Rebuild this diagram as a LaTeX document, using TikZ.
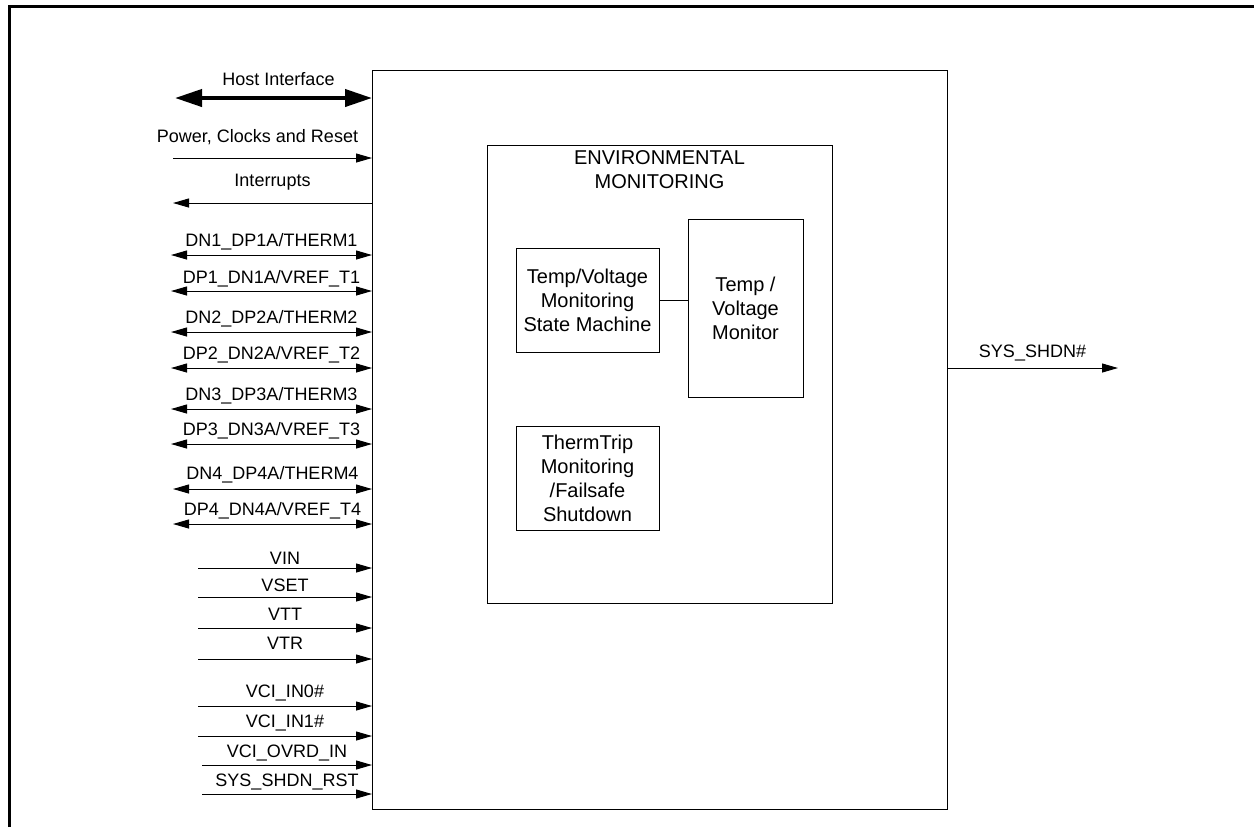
\documentclass[tikz,border=0pt]{standalone}
\usepackage{fontspec}
\setmainfont{Liberation Sans}
\usetikzlibrary{arrows.meta,positioning}

\begin{document}
\begin{tikzpicture}[
  x=0.5pt, y=-0.5pt,
  block/.style={draw, inner sep=0pt, outer sep=0pt, align=center, line width=0.5pt, font=\fontsize{10}{12}\selectfont},
  pin/.style={-{Triangle[length=8pt,width=4.5pt]}, line width=0.5pt},
  bipin/.style={{Triangle[length=8pt,width=4.5pt]}-{Triangle[length=8pt,width=4.5pt]}, line width=0.5pt},
  bus/.style={{Triangle[length=13.5pt,width=8.5pt]}-{Triangle[length=13.5pt,width=8.5pt]}, line width=2pt},
  signame/.style={font=\fontsize{9}{11}\selectfont, inner sep=1pt, text depth=0pt, midway, above=3pt}
]
\useasboundingbox (0,0) rectangle (1254,827);
\draw[line width=1.5pt] (9,827) |- (1254,6.5);

% chip and environmental monitoring blocks
\node[block, minimum width=287.5pt, minimum height=369.5pt] (chip) at (659.5,439.5) {};
\node[block, minimum width=172.5pt, minimum height=229pt] (env) at (659.5,374) {};
\node[block, draw=none, below=3pt of env.north] (envtitle) {ENVIRONMENTAL\\MONITORING};
\node[block, minimum width=71.5pt, minimum height=52pt] (tvsm) at (587.5,300) {Temp/Voltage\\Monitoring\\State Machine};
\node[block, minimum width=57.5pt, minimum height=89pt, right=14.5pt of tvsm, yshift=-4pt] (tvmon) {Temp /\\Voltage\\Monitor};
\node[block, minimum width=71.5pt, minimum height=52pt, below=37pt of tvsm] (trip) {ThermTrip\\Monitoring\\/Failsafe\\Shutdown};
\draw[line width=0.5pt] (tvsm.east) -- (tvsm.east -| tvmon.west);

% host side signals
\coordinate (host) at (175,98);
\coordinate (pcr) at (173,158);
\coordinate (irq) at (173,203);
\draw[bus] (host) -- (host -| chip.west) node[signame, above=4.5pt, xshift=2.5pt] {Host Interface};
\draw[pin] (pcr) -- (pcr -| chip.west) node[signame, above=6.5pt, xshift=-7.5pt] {Power, Clocks and Reset};
\draw[pin] (irq -| chip.west) -- (irq) node[signame, above=7pt] {Interrupts};

% remote diode pins
\coordinate (dn1) at (171,255);
\coordinate (dp1) at (171,291);
\coordinate (dn2) at (171,332);
\coordinate (dp2) at (171,368);
\coordinate (dn3) at (171,409);
\coordinate (dp3) at (171,444);
\coordinate (dn4) at (173,489);
\coordinate (dp4) at (173,524);
\draw[bipin] (dn1) -- (dn1 -| chip.west) node[signame] {DN1\_DP1A/THERM1};
\draw[bipin] (dp1) -- (dp1 -| chip.west) node[signame, above=2.5pt] {DP1\_DN1A/VREF\_T1};
\draw[bipin] (dn2) -- (dn2 -| chip.west) node[signame] {DN2\_DP2A/THERM2};
\draw[bipin] (dp2) -- (dp2 -| chip.west) node[signame] {DP2\_DN2A/VREF\_T2};
\draw[bipin] (dn3) -- (dn3 -| chip.west) node[signame] {DN3\_DP3A/THERM3};
\draw[bipin] (dp3) -- (dp3 -| chip.west) node[signame] {DP3\_DN3A/VREF\_T3};
\draw[bipin] (dn4) -- (dn4 -| chip.west) node[signame, above=3.5pt] {DN4\_DP4A/THERM4};
\draw[bipin] (dp4) -- (dp4 -| chip.west) node[signame] {DP4\_DN4A/VREF\_T4};

% voltage inputs
\coordinate (vin) at (198,568);
\coordinate (vset) at (198,597);
\coordinate (vtt) at (198,628);
\coordinate (vtr) at (198,659);
\draw[pin] (vin) -- (vin -| chip.west) node[signame, above=0.5pt] {VIN};
\draw[pin] (vset) -- (vset -| chip.west) node[signame, above=1.5pt] {VSET};
\draw[pin] (vtt) -- (vtt -| chip.west) node[signame, above=2.5pt] {VTT};
\draw[pin] (vtr) -- (vtr -| chip.west) node[signame, above=3.5pt] {VTR};

% VCI and shutdown inputs
\coordinate (vci0) at (198,706);
\coordinate (vci1) at (198,736);
\coordinate (ovrd) at (202,765);
\coordinate (srst) at (202,794);
\draw[pin] (vci0) -- (vci0 -| chip.west) node[signame] {VCI\_IN0\#};
\draw[pin] (vci1) -- (vci1 -| chip.west) node[signame] {VCI\_IN1\#};
\draw[pin] (ovrd) -- (ovrd -| chip.west) node[signame, above=2.5pt] {VCI\_OVRD\_IN};
\draw[pin] (srst) -- (srst -| chip.west) node[signame, above=2.5pt] {SYS\_SHDN\_RST};

% shutdown output
\coordinate (shdn) at (1118,368);
\draw[pin] (shdn -| chip.east) -- (shdn) node[signame, above=4pt] {SYS\_SHDN\#};
\end{tikzpicture}
\end{document}
